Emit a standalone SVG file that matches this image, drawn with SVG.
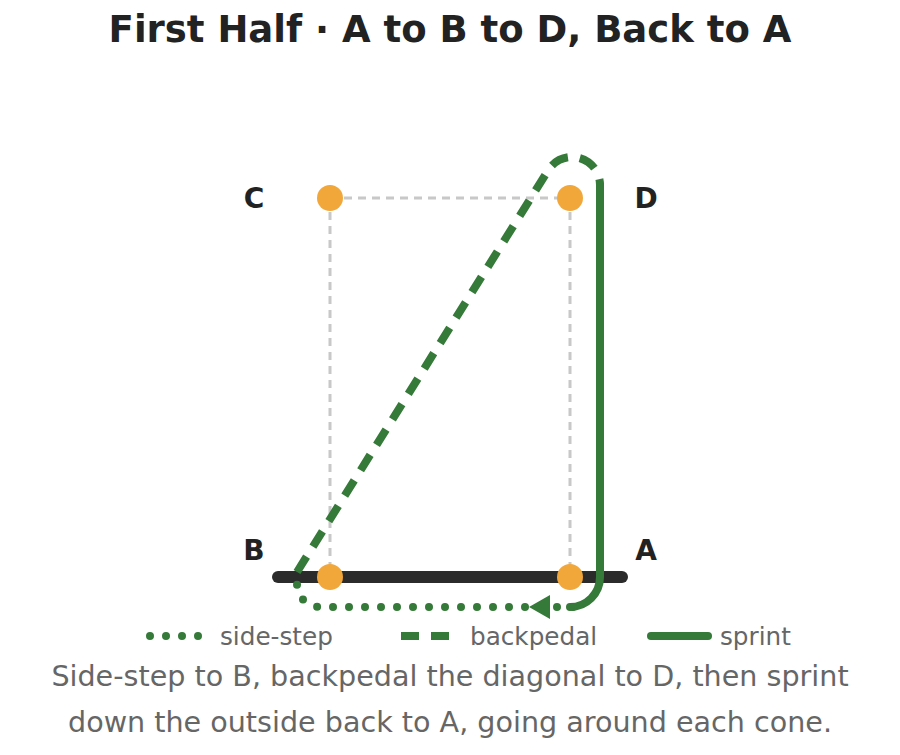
<svg xmlns="http://www.w3.org/2000/svg" width="900" height="755" viewBox="0 0 900 755">
<style>
.title{font-family:"DejaVu Sans",sans-serif;font-weight:bold;font-size:37px;fill:#222;text-anchor:middle}
.lbl{font-family:"DejaVu Sans",sans-serif;font-weight:bold;font-size:28px;fill:#222;text-anchor:middle;dominant-baseline:central}
.leg{font-family:"DejaVu Sans",sans-serif;font-size:24.7px;fill:#666}
.cap{font-family:"DejaVu Sans",sans-serif;font-size:28.6px;fill:#666;text-anchor:middle}
.grid{stroke:#c8c8c8;stroke-width:3;stroke-dasharray:8 6;fill:none}
.cone{fill:#f2a73b}
.side{stroke:#357a38;stroke-width:8;fill:none;stroke-linecap:round;stroke-dasharray:0 16}
.back{stroke:#357a38;stroke-width:8;fill:none;stroke-dasharray:18 12}
.sprint{stroke:#357a38;stroke-width:8;fill:none;stroke-linecap:round}
</style>
<rect width="900" height="755" fill="#fff"/>
<text class="title" x="450" y="42">First Half · A to B to D, Back to A</text>
<g id="field">
<path class="grid" d="M330,198 H570 M330,198 V577 M570,198 V577"/>
<line x1="278" y1="577" x2="622" y2="577" stroke="#2b2b2b" stroke-width="12" stroke-linecap="round"/>
</g>
<g id="connectors">
<path class="sprint" d="M600,185 V577 A30,30 0 0 1 570,607"/>
<path class="back" d="M297,572 L548.3,170.1 A28,28 0 0 1 600,185"/>
<path class="side" d="M573,607 H320 A23,23 0 0 1 297,584"/>
<polygon points="529,607 550,595 550,619" fill="#357a38"/>
</g>
<g id="C"><circle class="cone" cx="330" cy="198" r="13"/><text class="lbl" x="254" y="198">C</text></g>
<g id="D"><circle class="cone" cx="570" cy="198" r="13"/><text class="lbl" x="646" y="198">D</text></g>
<g id="B"><circle class="cone" cx="330" cy="577" r="13"/><text class="lbl" x="254" y="550">B</text></g>
<g id="A"><circle class="cone" cx="570" cy="577" r="13"/><text class="lbl" x="646" y="550">A</text></g>
<g id="legend">
<path class="side" d="M150,636 H198.5"/>
<text class="leg" x="220" y="645">side-step</text>
<path class="back" d="M401,636 H451"/>
<text class="leg" x="470" y="645">backpedal</text>
<path class="sprint" d="M651,636 H708" stroke-linecap="butt"/>
<text class="leg" x="720" y="645">sprint</text>
</g>
<text class="cap" x="450" y="686">Side-step to B, backpedal the diagonal to D, then sprint</text>
<text class="cap" x="450" y="732">down the outside back to A, going around each cone.</text>
</svg>
